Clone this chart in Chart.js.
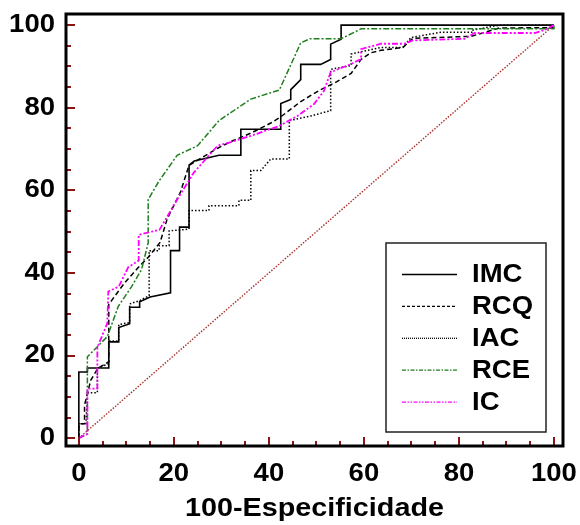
<!DOCTYPE html>
<html><head><meta charset="utf-8">
<script src="https://cdn.jsdelivr.net/npm/chart.js@4.4.0/dist/chart.umd.min.js"></script>
<style>html,body{margin:0;padding:0;background:#fff;}#wrap{width:580px;height:525px;}</style>
</head><body><div id="wrap"><canvas id="c" width="580" height="525"></canvas></div>
<script>
// ---- data ----
const seriesNames = ['IMC', 'RCQ', 'IAC', 'RCE', 'IC'];

const imcX = [0,0,1.8,1.8,6.3,6.3,8.4,8.4,10.7,10.7,12.8,12.8,15,19.3,19.3,21.2,21.2,23.2,23.2,24.3,29.5,34.1,34.1,42.5,42.5,44.6,44.6,46.7,46.7,50.9,53,53,55.2,55.2,100];
const imcY = [0,16,16,17,17,23.3,23.3,26.8,27.7,31.7,31.7,33,34.2,35.2,45.4,45.4,51.1,51.1,66.1,67.1,68.5,68.5,74.8,74.8,81,82,84.4,86.8,90.5,90.5,91.7,95.4,96.6,100,100];

const rcqX = [0,0,1.2,1.2,2.5,4,6.3,6.3,9.7,12.5,14.6,17.1,18.6,21.4,23.2,25,29.2,32,36.5,40.4,42.5,46.7,50.6,53.8,57.3,59.4,61.4,63.6,68.2,70.3,82.6,88.5,100];
const rcqY = [0,3.5,3.5,8,14,16.9,18.5,32.4,37.7,41.3,43.8,47.4,53.1,59.6,66.1,67.3,70.2,71.8,74,76.3,77.8,81.5,84.2,86,88.3,91.7,93.3,93.9,94.6,96.8,97.3,99.3,99.4];

const iacX = [0,0,1.5,1.8,3.9,3.9,6.3,6.3,8.4,8.4,10.7,10.7,12.8,14.8,14.8,16.9,16.9,19,19,21.2,23.2,23.2,27.4,27.4,33.7,33.7,36.2,36.2,38.3,40.4,44.3,44.3,48.8,53,53,57.3,57.3,63.6,68.2,69.9,76.2,82.9,82.9,88.5,100];
const iacY = [0,3.5,3.5,11,11,17,18,23.5,23.5,27.5,28,32.5,33.3,34.5,45.4,45.4,46.6,46.6,50.2,50.4,50.6,55.1,55.1,56.3,56.3,57.6,57.6,64.8,64.8,67.6,67.6,76.9,78,79.3,89.3,90.2,93,94.6,94.6,97,98.3,98.3,98.8,100,100];

const rceX = [0,1.8,1.8,6,8.3,11.1,13.2,14.6,14.6,16.9,20.7,25,29.5,36.2,42.2,46.7,48.6,55.2,59.4,100,100];
const rceY = [0,1,19.7,24.6,31.9,36.7,40.8,47.3,57.8,62.3,68.5,70.8,76.9,82.1,84.3,95.7,96.7,96.7,99.1,99.1,100];

const icX = [0,1.8,1.8,3.9,3.9,6,6.2,8.4,10.4,12.6,12.6,17,20.7,24.2,29.2,32,36.2,42.2,46,49.5,51.6,53,57.3,59.4,59.4,63.6,68.5,70.3,81.2,83.3,95.9,98,100];
const icY = [0,1,12,12,22,27.8,35.5,36.7,41.4,43,49.2,50.5,57.8,64.3,70.8,71.7,73.2,75.6,78,80.9,84.1,88.6,90.6,91.8,94.2,95.5,95.5,96.3,96.7,98.1,98.1,98.8,100];

const diagX = [0, 100];
const diagY = [0, 100];

const xTickLabels = [0, 20, 40, 60, 80, 100];
const yTickLabels = [0, 20, 40, 60, 80, 100];
const minorTickValues = [0,5,10,15,20,25,30,35,40,45,50,55,60,65,70,75,80,85,90,95,100];
const xTitle = '100-Especificidade';

// ---- build ----
const pts = (xs, ys) => xs.map((x, i) => ({x: x, y: ys[i]}));
const FONT = 'Liberation Sans, Arial, Helvetica, sans-serif';

const styles = [
  {color: '#000000', dash: [], legendDash: [], width: 1.6},
  {color: '#000000', dash: [5, 3], legendDash: [3, 2], width: 1.5},
  {color: '#000000', dash: [1.5, 2], legendDash: [1, 1], width: 1.5},
  {color: '#1f7f1f', dash: [6, 2, 2, 2], legendDash: [4, 1.5, 1.5, 1.5], width: 1.5},
  {color: '#ff00ff', dash: [6, 2, 2, 2, 2, 2], legendDash: [4, 1.5, 1.5, 1.5, 1.5, 1.5], width: 1.8}
];
const seriesData = [pts(imcX, imcY), pts(rcqX, rcqY), pts(iacX, iacY), pts(rceX, rceY), pts(icX, icY)];

const datasets = [{
  label: 'diag', data: pts(diagX, diagY), borderColor: '#a8322d', borderDash: [1.5, 1.5],
  borderWidth: 1.4, pointRadius: 0, showLine: true, fill: false, order: 10
}];
seriesNames.forEach((n, i) => {
  datasets.push({
    label: n, data: seriesData[i], borderColor: styles[i].color, borderDash: styles[i].dash,
    borderWidth: styles[i].width, pointRadius: 0, showLine: true, fill: false, tension: 0,
    order: 5 - i
  });
});

// draw text horizontally stretched around its anchor point
function stretchedFill(ctx, sx) {
  const orig = CanvasRenderingContext2D.prototype.fillText;
  ctx.fillText = function (t, x, y) {
    this.save();
    this.translate(x, y);
    this.scale(sx, 1);
    orig.call(this, t, 0, 0);
    this.restore();
  };
}
function wrapStretch(scale, name, sx) {
  if (scale['_st_' + name]) return;
  const orig = scale[name];
  scale[name] = function (...args) {
    const c = this.ctx;
    stretchedFill(c, sx);
    try { return orig.apply(this, args); } finally { delete c.fillText; }
  };
  scale['_st_' + name] = true;
}

const stretch = {
  id: 'stretch',
  beforeDraw(chart) {
    wrapStretch(chart.scales.x, 'drawTitle', 1.15);
    wrapStretch(chart.scales.x, 'drawLabels', 1.1);
    wrapStretch(chart.scales.y, 'drawLabels', 1.1);
  }
};

const decor = {
  id: 'decor',
  afterDatasetsDraw(chart) {
    const ctx = chart.ctx, a = chart.chartArea;
    const xs = chart.scales.x, ys = chart.scales.y;
    ctx.save();
    // inward tick marks
    ctx.strokeStyle = '#8b1414';
    ctx.lineWidth = 2;
    minorTickValues.forEach(v => {
      const major = xTickLabels.includes(v);
      const len = major ? 9 : 5;
      const px = Math.round(xs.getPixelForValue(v));
      ctx.beginPath(); ctx.moveTo(px, a.bottom); ctx.lineTo(px, a.bottom - len); ctx.stroke();
      const py = Math.round(ys.getPixelForValue(v));
      ctx.beginPath(); ctx.moveTo(a.left, py); ctx.lineTo(a.left + len, py); ctx.stroke();
    });
    // frame
    ctx.strokeStyle = '#000';
    ctx.lineWidth = 3;
    ctx.strokeRect(a.left, a.top, a.right - a.left, a.bottom - a.top);
    // legend box
    const bw = 160, bh = 189;
    const bx = a.right - 17 - bw, by = a.bottom - 14 - bh;
    ctx.fillStyle = '#fff';
    ctx.fillRect(bx, by, bw, bh);
    ctx.strokeStyle = '#222';
    ctx.lineWidth = 1.5;
    ctx.strokeRect(bx, by, bw, bh);
    ctx.font = 'bold 25px ' + FONT;
    ctx.textBaseline = 'middle';
    ctx.textAlign = 'left';
    seriesNames.forEach((n, i) => {
      const ds = chart.data.datasets[i + 1];
      const cy = by + 31.5 + i * 31.9;
      ctx.strokeStyle = ds.borderColor;
      ctx.setLineDash(styles[i].legendDash);
      ctx.lineWidth = 1.3;
      ctx.beginPath(); ctx.moveTo(bx + 16, cy); ctx.lineTo(bx + 71, cy); ctx.stroke();
      ctx.setLineDash([]);
      ctx.fillStyle = '#000';
      ctx.save();
      ctx.translate(bx + 86, cy + 1);
      ctx.scale(1.1, 1);
      ctx.fillText(n, 0, 0);
      ctx.restore();
    });
    ctx.restore();
  }
};

const tickFont = {family: FONT, weight: 'bold', size: 25};
const noPad = s => { s.paddingLeft = 0; s.paddingRight = 0; s.paddingTop = 0; s.paddingBottom = 0; };

new Chart(document.getElementById('c'), {
  type: 'scatter',
  data: {datasets: datasets},
  options: {
    responsive: false, animation: false, devicePixelRatio: 1,
    layout: {padding: {top: 14, right: 17, left: 0, bottom: 0}},
    plugins: {legend: {display: false}, tooltip: {enabled: false}},
    scales: {
      x: {
        type: 'linear', min: -2.7, max: 101.9,
        grid: {display: false, drawTicks: false}, border: {display: false},
        afterBuildTicks: s => { s.ticks = xTickLabels.map(v => ({value: v})); },
        afterFit: s => { s.height = 79; noPad(s); },
        ticks: {font: tickFont, color: '#000', padding: 13, maxRotation: 0, autoSkip: false},
        title: {display: true, text: xTitle, color: '#000', font: tickFont, padding: {top: 0, bottom: 1}}
      },
      y: {
        type: 'linear', min: -1.9, max: 102.7,
        grid: {display: false, drawTicks: false}, border: {display: false},
        afterBuildTicks: s => { s.ticks = yTickLabels.map(v => ({value: v})); },
        afterFit: s => { s.width = 66; noPad(s); },
        ticks: {font: tickFont, color: '#000', padding: 11, autoSkip: false}
      }
    }
  },
  plugins: [stretch, decor]
});
</script></body></html>
